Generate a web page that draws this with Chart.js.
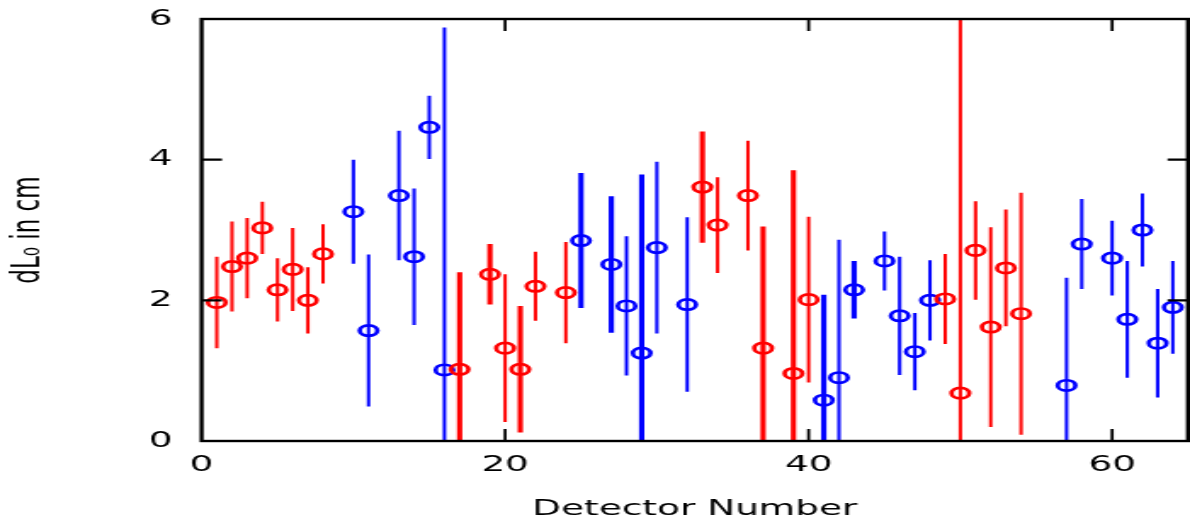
<!DOCTYPE html>
<html>
<head>
<meta charset="utf-8">
<script src="https://cdn.jsdelivr.net/npm/chart.js@4.4.1/dist/chart.umd.min.js"></script>
<style>
  html, body { margin: 0; padding: 0; background: #fff; overflow: hidden; }
  /* the original picture is stretched sideways, so the chart is drawn narrow and widened */
  #wrap { width: 700px; height: 522px; transform: scaleX(1.7); transform-origin: 0 0; }
</style>
</head>
<body>
<div id="wrap"><canvas id="chart" width="700" height="522"></canvas></div>
<script>
// red detectors
const redDet = [1, 2, 3, 4, 5, 6, 7, 8, 17, 19, 20, 21, 22, 24, 33, 34, 36, 37, 39, 40, 49, 50, 51, 52, 53, 54];
const redVal = [1.97, 2.48, 2.60, 3.03, 2.15, 2.44, 2.00, 2.66, 1.02, 2.37, 1.32, 1.02, 2.20, 2.11, 3.61, 3.07, 3.49, 1.32, 0.96, 2.01, 2.02, 0.68, 2.71, 1.62, 2.46, 1.81];
const redErr = [0.65, 0.64, 0.57, 0.37, 0.45, 0.59, 0.47, 0.42, 1.38, 0.43, 1.05, 0.90, 0.49, 0.72, 0.79, 0.68, 0.78, 1.73, 2.89, 1.18, 0.64, 6.0, 0.70, 1.42, 0.83, 1.72];

// blue detectors
const blueDet = [10, 11, 13, 14, 15, 16, 25, 27, 28, 29, 30, 32, 41, 42, 43, 45, 46, 47, 48, 57, 58, 60, 61, 62, 63, 64];
const blueVal = [3.26, 1.57, 3.49, 2.62, 4.46, 1.01, 2.85, 2.51, 1.92, 1.25, 2.75, 1.94, 0.58, 0.90, 2.15, 2.56, 1.78, 1.27, 2.00, 0.79, 2.80, 2.60, 1.73, 3.00, 1.39, 1.90];
const blueErr = [0.74, 1.08, 0.92, 0.97, 0.45, 4.87, 0.96, 0.97, 0.99, 2.54, 1.22, 1.24, 1.50, 1.96, 0.41, 0.42, 0.84, 0.55, 0.57, 1.53, 0.64, 0.53, 0.83, 0.52, 0.77, 0.66];

// bars drawn with a heavier pen
const thickBars = [17, 19, 21, 25, 27, 29, 33, 37, 39, 41, 43];

const xTicks = [0, 20, 40, 60];
const yTicks = [0, 2, 4, 6];

const toPoints = (det, val) => det.map((d, i) => ({ x: d, y: val[i] }));

const errorBars = {
    id: 'errorBars',
    beforeDatasetsDraw(chart) {
        const { ctx, chartArea: a, scales: { x, y } } = chart;
        ctx.save();
        ctx.beginPath();
        ctx.rect(a.left, a.top, a.right - a.left, a.bottom - a.top);
        ctx.clip();
        [[redDet, redVal, redErr, '#ff0000'], [blueDet, blueVal, blueErr, '#0000ff']].forEach(([det, val, err, col]) => {
            ctx.strokeStyle = col;
            det.forEach((d, i) => {
                ctx.lineWidth = thickBars.includes(d) ? 3.1 : 2;
                const px = x.getPixelForValue(d);
                ctx.beginPath();
                ctx.moveTo(px, y.getPixelForValue(val[i] - err[i]));
                ctx.lineTo(px, y.getPixelForValue(val[i] + err[i]));
                ctx.stroke();
            });
        });
        ctx.restore();
    },
    afterDraw(chart) {
        const { ctx, chartArea: a, scales: { x, y } } = chart;
        ctx.save();
        ctx.strokeStyle = '#000';
        // inward tick marks
        ctx.lineWidth = 1.8;
        xTicks.forEach(v => {
            if (v === 0) return;
            const px = x.getPixelForValue(v);
            ctx.beginPath();
            ctx.moveTo(px, a.bottom); ctx.lineTo(px, a.bottom - 12);
            ctx.moveTo(px, a.top); ctx.lineTo(px, a.top + 12);
            ctx.stroke();
        });
        ctx.lineWidth = 2.2;
        yTicks.forEach(v => {
            if (v === 0 || v === 6) return;
            const py = y.getPixelForValue(v);
            ctx.beginPath();
            ctx.moveTo(a.left, py); ctx.lineTo(a.left + 12, py);
            ctx.moveTo(a.right, py); ctx.lineTo(a.right - 12, py);
            ctx.stroke();
        });
        // frame
        ctx.lineWidth = 2.4;
        ctx.strokeRect(a.left, a.top, a.right - a.left, a.bottom - a.top);
        ctx.restore();
    }
};

const ctx = document.getElementById('chart');
const chart = new Chart(ctx, {
    type: 'scatter',
    data: {
        datasets: [{
            label: 'red',
            data: toPoints(redDet, redVal),
            borderColor: '#ff0000',
            backgroundColor: 'rgba(0,0,0,0)',
            pointRadius: 5.2,
            pointBorderWidth: 2.7,
        },
        {
            label: 'blue',
            data: toPoints(blueDet, blueVal),
            borderColor: '#0000ff',
            backgroundColor: 'rgba(0,0,0,0)',
            pointRadius: 5.2,
            pointBorderWidth: 2.7,
        }],
    },
    options: {
        responsive: false,
        animation: false,
        layout: { autoPadding: false, padding: { top: 19, right: 1.2, left: 0, bottom: 0 } },
        plugins: {
            legend: { display: false },
            tooltip: { enabled: false },
        },
        scales: {
            x: {
                type: 'linear',
                min: 0,
                max: 65,
                afterFit: s => { s.height = 81; s.paddingLeft = 0; s.paddingRight = 0; },
                afterBuildTicks: s => { s.ticks = xTicks.map(v => ({ value: v })); },
                grid: { display: false, drawTicks: false },
                border: { display: false },
                ticks: {
                    padding: 11,
                    color: '#000',
                    maxRotation: 0,
                    font: { family: 'DejaVu Sans', size: 22 },
                },
                title: {
                    display: true,
                    text: 'Detector Number',
                    color: '#000',
                    padding: { top: 0, bottom: 0 },
                    font: { family: 'DejaVu Sans', size: 22 },
                },
            },
            y: {
                min: 0,
                max: 6,
                afterFit: s => { s.width = 118.6; s.paddingTop = 0; s.paddingBottom = 0; },
                afterBuildTicks: s => { s.ticks = yTicks.map(v => ({ value: v })); },
                grid: { display: false, drawTicks: false },
                border: { display: false },
                ticks: {
                    padding: 17,
                    color: '#000',
                    font: { family: 'DejaVu Sans', size: 22 },
                },
                title: {
                    display: true,
                    text: 'dL\u2080 in cm',
                    color: '#000',
                    padding: { top: 3, bottom: 0 },
                    font: { family: 'DejaVu Sans', size: 23 },
                },
            },
        },
    },
    plugins: [errorBars],
});
</script>
</body>
</html>
